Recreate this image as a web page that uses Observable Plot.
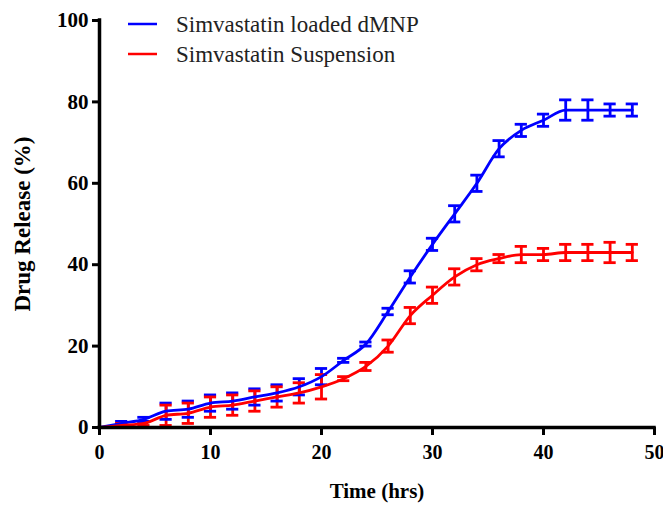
<!DOCTYPE html>
<html>
<head>
<meta charset="utf-8">
<script src="https://cdn.jsdelivr.net/npm/d3@7"></script>
<script src="https://cdn.jsdelivr.net/npm/@observablehq/plot@0.6"></script>
<style>
  html, body { margin: 0; padding: 0; background: #fff; overflow: hidden; }
  #chart { width: 663px; height: 507px; }
</style>
</head>
<body>
<div id="chart"></div>
<script>
const times = [0,2,4,6,8,10,12,14,16,18,20,22,24,26,28,30,32,34,36,38,40,42,44,46,48];
const dmnp    = [0,1,2,4,4.5,6,6.5,7.5,8.5,10,12.5,16.5,20.5,28.5,37,45,52.5,60,68.5,73,75.5,78,78,78,78];
const dmnpErr = [0,0.5,0.5,2,2,2,2,2,2,2,2,0.5,0.5,0.8,1.5,1.5,2,2,2,1.5,1.5,2.5,2.5,1.5,1.5];
const susp    = [0,0.5,1,3,3.5,5,5.5,6.5,7.5,8.5,10,12,15,20,27.5,32.5,37,40,41.5,42.5,42.5,43,43,43,43];
const suspErr = [0,0.5,0.5,2.5,2.5,2.5,2.5,2.5,2.5,2.5,3,0.5,1,1.5,2,2,2,1.5,1,2,1.5,2,2,2.5,2];
const seriesNames = ["Simvastatin loaded dMNP", "Simvastatin Suspension"];
const seriesColors = ["#0000ff", "#ff0000"];
const xTicks = [0,10,20,30,40,50];
const yTicks = [0,20,40,60,80,100];

const rows = [];
times.forEach((t, i) => {
  rows.push({t, v: dmnp[i], e: dmnpErr[i], s: seriesNames[0]});
  rows.push({t, v: susp[i], e: suspErr[i], s: seriesNames[1]});
});
const err = rows.filter(d => d.e > 0);
const cap = 0.55;

const font = "'Liberation Serif', 'Times New Roman', serif";
const plot = Plot.plot({
  width: 663,
  height: 507,
  marginLeft: 99,
  marginRight: 9,
  marginTop: 20,
  marginBottom: 80,
  style: { fontFamily: font, fontSize: "20px", fontWeight: "bold", color: "#000", background: "#fff", overflow: "visible" },
  x: { domain: [0, 50] },
  y: { domain: [0, 100] },
  color: { domain: seriesNames, range: seriesColors },
  marks: [
    Plot.axisX({ ticks: xTicks, tickSize: 8, tickPadding: 9, strokeWidth: 3, fontSize: 20, fontWeight: "bold", label: null, tickFormat: d3.format("d") }),
    Plot.axisX({ ticks: [], label: "Time (hrs)", fontSize: 21, fontWeight: "bold", labelAnchor: "center", labelArrow: "none", labelOffset: 70 }),
    Plot.axisY({ ticks: yTicks, tickSize: 7, tickPadding: 4, strokeWidth: 3, fontSize: 21, fontWeight: "bold", label: null, tickFormat: d3.format("d") }),
    Plot.axisY({ ticks: [], label: "Drug Release (%)", fontSize: 23, fontWeight: "bold", labelAnchor: "center", labelArrow: "none", labelOffset: 86 }),
    Plot.ruleX(err, { x: "t", y1: d => d.v - d.e, y2: d => d.v + d.e, stroke: "s", strokeWidth: 2.8 }),
    Plot.ruleY(err, { y: d => d.v + d.e, x1: d => d.t - cap, x2: d => d.t + cap, stroke: "s", strokeWidth: 2.8 }),
    Plot.ruleY(err, { y: d => d.v - d.e, x1: d => d.t - cap, x2: d => d.t + cap, stroke: "s", strokeWidth: 2.8 }),
    Plot.line(rows, { x: "t", y: "v", z: "s", stroke: "s", strokeWidth: 2.8, curve: "monotone-x" }),
    Plot.ruleX([0], { stroke: "#000", strokeWidth: 3.5, strokeLinecap: "square" }),
    Plot.ruleY([0], { stroke: "#000", strokeWidth: 3.5, strokeLinecap: "square" })
  ]
});
document.getElementById("chart").appendChild(plot);

// legend inside the plot area
const svg = d3.select(plot);
const lg = svg.append("g").attr("font-family", font).attr("font-size", 23).attr("font-weight", "normal").attr("text-anchor", "start");
seriesNames.forEach((name, i) => {
  const y = 24 + i * 30;
  lg.append("line").attr("x1", 128).attr("x2", 157).attr("y1", y).attr("y2", y)
    .attr("stroke", seriesColors[i]).attr("stroke-width", 2.5);
  lg.append("text").attr("x", 176).attr("y", y).attr("dy", "0.35em").attr("fill", "#222").attr("text-anchor", "start").text(name);
});
</script>
</body>
</html>
